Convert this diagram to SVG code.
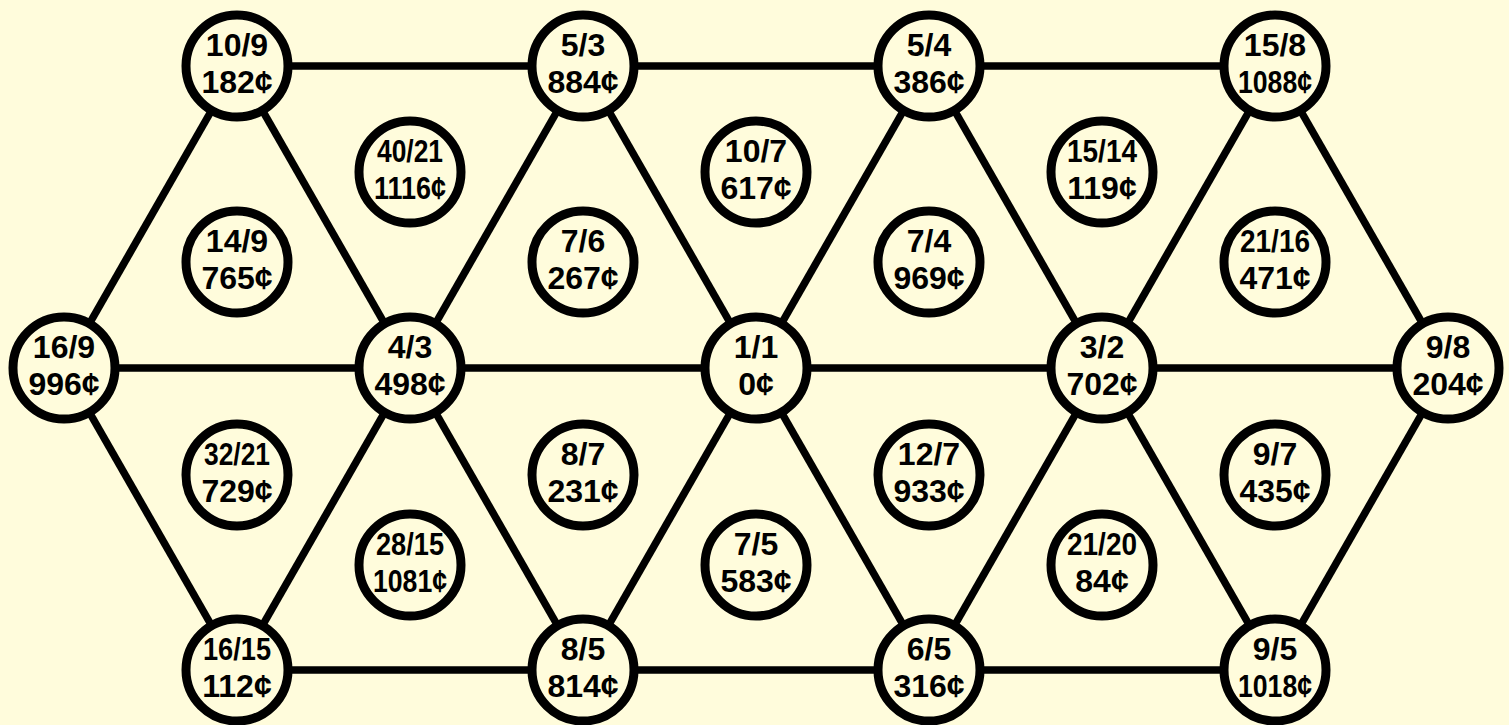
<svg xmlns="http://www.w3.org/2000/svg" width="1509" height="725" viewBox="0 0 1509 725">
<style>
.bg{fill:#FFFCDC}
.e{stroke:#000;stroke-width:7.5;fill:none}
.n circle{fill:#FFFCDC;stroke:#000;stroke-width:9}
.n text{font-family:"Liberation Sans",Arial,sans-serif;font-weight:bold;font-size:32px;text-anchor:middle;fill:#000}
</style>
<rect class="bg" x="0" y="0" width="1509" height="725"/>
<g id="connectors">
<line class="e" x1="237" y1="66" x2="583" y2="66"/>
<line class="e" x1="583" y1="66" x2="929" y2="66"/>
<line class="e" x1="929" y1="66" x2="1275" y2="66"/>
<line class="e" x1="64" y1="368" x2="410" y2="368"/>
<line class="e" x1="410" y1="368" x2="756" y2="368"/>
<line class="e" x1="756" y1="368" x2="1102" y2="368"/>
<line class="e" x1="1102" y1="368" x2="1448" y2="368"/>
<line class="e" x1="237" y1="670" x2="583" y2="670"/>
<line class="e" x1="583" y1="670" x2="929" y2="670"/>
<line class="e" x1="929" y1="670" x2="1275" y2="670"/>
<line class="e" x1="64" y1="368" x2="237" y2="66"/>
<line class="e" x1="237" y1="66" x2="410" y2="368"/>
<line class="e" x1="410" y1="368" x2="583" y2="66"/>
<line class="e" x1="583" y1="66" x2="756" y2="368"/>
<line class="e" x1="756" y1="368" x2="929" y2="66"/>
<line class="e" x1="929" y1="66" x2="1102" y2="368"/>
<line class="e" x1="1102" y1="368" x2="1275" y2="66"/>
<line class="e" x1="1275" y1="66" x2="1448" y2="368"/>
<line class="e" x1="64" y1="368" x2="237" y2="670"/>
<line class="e" x1="237" y1="670" x2="410" y2="368"/>
<line class="e" x1="410" y1="368" x2="583" y2="670"/>
<line class="e" x1="583" y1="670" x2="756" y2="368"/>
<line class="e" x1="756" y1="368" x2="929" y2="670"/>
<line class="e" x1="929" y1="670" x2="1102" y2="368"/>
<line class="e" x1="1102" y1="368" x2="1275" y2="670"/>
<line class="e" x1="1275" y1="670" x2="1448" y2="368"/>
</g>
<g id="n-10-9" class="n"><circle cx="237" cy="66" r="51"/><text x="237" y="56">10/9</text><text x="237" y="93">182¢</text></g>
<g id="n-5-3" class="n"><circle cx="583" cy="66" r="51"/><text x="583" y="56">5/3</text><text x="583" y="93">884¢</text></g>
<g id="n-5-4" class="n"><circle cx="929" cy="66" r="51"/><text x="929" y="56">5/4</text><text x="929" y="93">386¢</text></g>
<g id="n-15-8" class="n"><circle cx="1275" cy="66" r="51"/><text x="1275" y="56">15/8</text><text x="1275" y="93" textLength="74" lengthAdjust="spacingAndGlyphs">1088¢</text></g>
<g id="n-16-9" class="n"><circle cx="64" cy="368" r="51"/><text x="64" y="358">16/9</text><text x="64" y="395">996¢</text></g>
<g id="n-4-3" class="n"><circle cx="410" cy="368" r="51"/><text x="410" y="358">4/3</text><text x="410" y="395">498¢</text></g>
<g id="n-1-1" class="n"><circle cx="756" cy="368" r="51"/><text x="756" y="358">1/1</text><text x="756" y="395">0¢</text></g>
<g id="n-3-2" class="n"><circle cx="1102" cy="368" r="51"/><text x="1102" y="358">3/2</text><text x="1102" y="395">702¢</text></g>
<g id="n-9-8" class="n"><circle cx="1448" cy="368" r="51"/><text x="1448" y="358">9/8</text><text x="1448" y="395">204¢</text></g>
<g id="n-16-15" class="n"><circle cx="237" cy="670" r="51"/><text x="237" y="660" textLength="68" lengthAdjust="spacingAndGlyphs">16/15</text><text x="237" y="697">112¢</text></g>
<g id="n-8-5" class="n"><circle cx="583" cy="670" r="51"/><text x="583" y="660">8/5</text><text x="583" y="697">814¢</text></g>
<g id="n-6-5" class="n"><circle cx="929" cy="670" r="51"/><text x="929" y="660">6/5</text><text x="929" y="697">316¢</text></g>
<g id="n-9-5" class="n"><circle cx="1275" cy="670" r="51"/><text x="1275" y="660">9/5</text><text x="1275" y="697" textLength="74" lengthAdjust="spacingAndGlyphs">1018¢</text></g>
<g id="n-40-21" class="n"><circle cx="410" cy="172" r="51"/><text x="410" y="162" textLength="66" lengthAdjust="spacingAndGlyphs">40/21</text><text x="410" y="199" textLength="72" lengthAdjust="spacingAndGlyphs">1116¢</text></g>
<g id="n-10-7" class="n"><circle cx="756" cy="172" r="51"/><text x="756" y="162">10/7</text><text x="756" y="199">617¢</text></g>
<g id="n-15-14" class="n"><circle cx="1102" cy="172" r="51"/><text x="1102" y="162" textLength="70" lengthAdjust="spacingAndGlyphs">15/14</text><text x="1102" y="199">119¢</text></g>
<g id="n-14-9" class="n"><circle cx="237" cy="262" r="51"/><text x="237" y="252">14/9</text><text x="237" y="289">765¢</text></g>
<g id="n-7-6" class="n"><circle cx="583" cy="262" r="51"/><text x="583" y="252">7/6</text><text x="583" y="289">267¢</text></g>
<g id="n-7-4" class="n"><circle cx="929" cy="262" r="51"/><text x="929" y="252">7/4</text><text x="929" y="289">969¢</text></g>
<g id="n-21-16" class="n"><circle cx="1275" cy="262" r="51"/><text x="1275" y="252" textLength="70" lengthAdjust="spacingAndGlyphs">21/16</text><text x="1275" y="289">471¢</text></g>
<g id="n-32-21" class="n"><circle cx="237" cy="475" r="51"/><text x="237" y="465" textLength="66" lengthAdjust="spacingAndGlyphs">32/21</text><text x="237" y="502">729¢</text></g>
<g id="n-8-7" class="n"><circle cx="583" cy="475" r="51"/><text x="583" y="465">8/7</text><text x="583" y="502">231¢</text></g>
<g id="n-12-7" class="n"><circle cx="929" cy="475" r="51"/><text x="929" y="465">12/7</text><text x="929" y="502">933¢</text></g>
<g id="n-9-7" class="n"><circle cx="1275" cy="475" r="51"/><text x="1275" y="465">9/7</text><text x="1275" y="502">435¢</text></g>
<g id="n-28-15" class="n"><circle cx="410" cy="565" r="51"/><text x="410" y="555" textLength="68" lengthAdjust="spacingAndGlyphs">28/15</text><text x="410" y="592" textLength="74" lengthAdjust="spacingAndGlyphs">1081¢</text></g>
<g id="n-7-5" class="n"><circle cx="756" cy="565" r="51"/><text x="756" y="555">7/5</text><text x="756" y="592">583¢</text></g>
<g id="n-21-20" class="n"><circle cx="1102" cy="565" r="51"/><text x="1102" y="555" textLength="70" lengthAdjust="spacingAndGlyphs">21/20</text><text x="1102" y="592">84¢</text></g>
</svg>
